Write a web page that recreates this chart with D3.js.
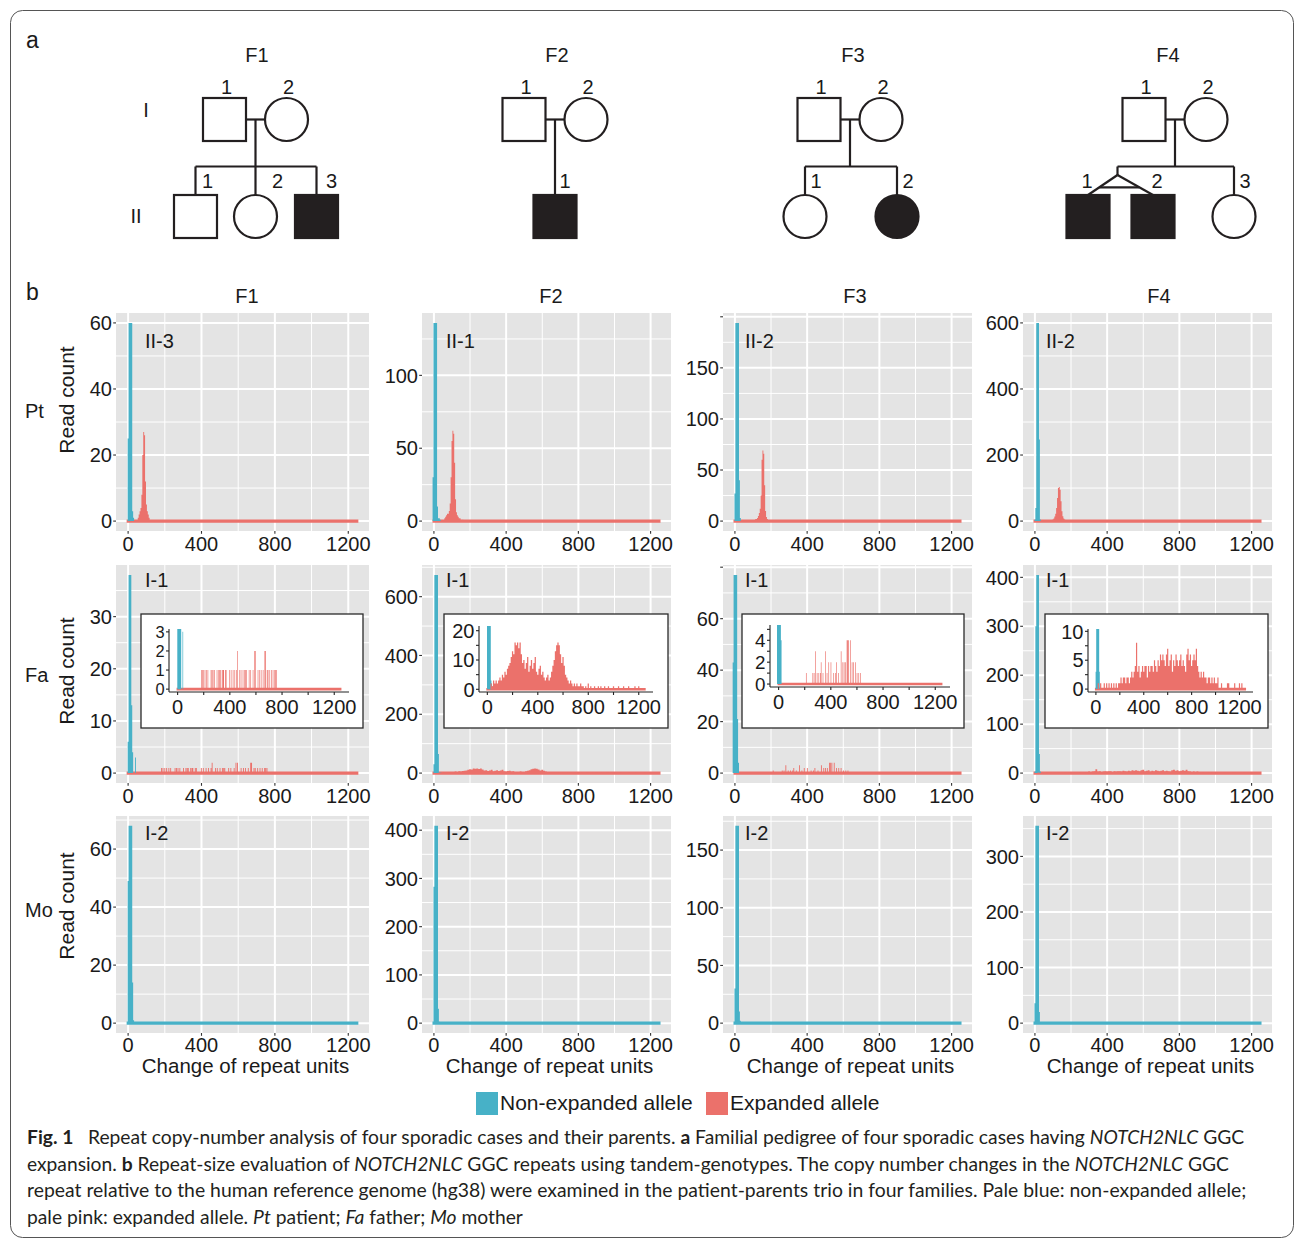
<!DOCTYPE html>
<html>
<head>
<meta charset="utf-8">
<script src="https://cdn.jsdelivr.net/npm/d3@7"></script>
<style>
  body { margin: 0; background: #fff; }
  svg text { font-family: "Liberation Sans", Arial, Helvetica, sans-serif; fill: #1a1a1a; }
  svg text.cap { font-family: Lato, "Open Sans", sans-serif; fill: #231F20; }
</style>
</head>
<body>
<div id="content"></div>
<script>
// ---------- data ----------
const families = ["F1", "F2", "F3", "F4"];
const members = ["Pt", "Fa", "Mo"];
const sampleIds = [
  ["II-3", "II-1", "II-2", "II-2"],
  ["I-1", "I-1", "I-1", "I-1"],
  ["I-2", "I-2", "I-2", "I-2"]
];
const xTicks = [0, 400, 800, 1200];
const xMinorTicks = [200, 600, 1000];
const xDomain = [-66, 1313];
const baselineRange = [-8, 1255];

const yTicks = [
  [[0, 20, 40, 60], [0, 50, 100], [0, 50, 100, 150, 200], [0, 200, 400, 600]],
  [[0, 10, 20, 30], [0, 200, 400, 600], [0, 20, 40, 60, 80], [0, 100, 200, 300, 400]],
  [[0, 20, 40, 60], [0, 100, 200, 300, 400], [0, 50, 100, 150], [0, 100, 200, 300]]
];
const yTickLabels = [
  [["0", "20", "40", "60"], ["0", "50", "100"], ["0", "50", "100", "150", ""], ["0", "200", "400", "600"]],
  [["0", "10", "20", "30"], ["0", "200", "400", "600"], ["0", "20", "40", "60", ""], ["0", "100", "200", "300", "400"]],
  [["0", "20", "40", "60"], ["0", "100", "200", "300", "400"], ["0", "50", "100", "150"], ["0", "100", "200", "300"]]
];

// [change of repeat units, read count]
const ptF1Blue = [[0, 25], [5, 60], [10, 60], [15, 60], [20, 60], [25, 3], [30, 1]];
const ptF2Blue = [[-5, 30], [0, 136], [5, 136], [10, 136], [15, 136], [20, 10], [25, 2], [30, 2], [35, 1]];
const ptF3Blue = [[0, 27], [5, 194], [10, 194], [15, 194], [20, 194], [25, 40], [30, 3]];
const ptF4Blue = [[0, 5], [5, 40], [10, 600], [15, 600], [20, 600], [25, 247], [30, 5]];
const faF1Blue = [[0, 6], [5, 38], [10, 38], [15, 38], [20, 13], [25, 4], [40, 3]];
const faF2Blue = [[0, 30], [5, 674], [10, 674], [15, 674], [20, 674], [25, 65], [30, 3], [35, 2], [40, 1]];
const faF3Blue = [[-10, 43], [-5, 77], [0, 77], [5, 77], [10, 77], [15, 21], [20, 4]];
const faF4Blue = [[0, 3], [5, 300], [10, 405], [15, 405], [20, 405], [25, 39], [30, 3]];
const moF1Blue = [[0, 49], [5, 68], [10, 68], [15, 68], [20, 68], [25, 14], [30, 1]];
const moF2Blue = [[0, 283], [5, 409], [10, 409], [15, 409], [20, 409], [25, 30], [30, 3]];
const moF3Blue = [[0, 30], [5, 171], [10, 171], [15, 171], [20, 171], [25, 10], [30, 2]];
const moF4Blue = [[0, 36], [5, 355], [10, 355], [15, 355], [20, 355], [25, 20], [30, 2]];

const ptF1Red = [[55, 1], [60, 2], [65, 3], [70, 4], [75, 8], [80, 20], [85, 27], [90, 26], [95, 12], [100, 5], [105, 3], [110, 2], [115, 1]];
const ptF2Red = [[60, 2], [65, 3], [70, 4], [75, 5], [80, 5], [85, 7], [90, 12], [95, 30], [100, 55], [105, 62], [110, 60], [115, 40], [120, 15], [125, 6], [130, 4], [135, 3], [140, 2], [145, 2], [150, 1], [160, 1]];
const ptF3Red = [[110, 1], [115, 2], [120, 2], [125, 3], [130, 5], [135, 8], [140, 12], [145, 25], [150, 60], [155, 69], [160, 66], [165, 35], [170, 10], [175, 4], [180, 2], [185, 1]];
const ptF4Red = [[90, 2], [95, 3], [100, 5], [105, 8], [110, 14], [115, 22], [120, 40], [125, 70], [130, 100], [135, 103], [140, 95], [145, 60], [150, 30], [155, 15], [160, 8], [165, 5], [170, 3], [175, 2], [180, 1]];
const faF1Red = [[182, 1], [190, 1], [200, 1], [210, 1], [222, 1], [232, 1], [256, 1], [264, 1], [272, 1], [282, 1], [302, 1], [315, 1], [322, 1], [328, 1], [341, 1], [348, 1], [353, 1], [366, 1], [372, 1], [399, 1], [410, 1], [425, 1], [438, 1], [452, 1], [458, 2], [476, 1], [486, 1], [501, 1], [514, 1], [521, 1], [527, 1], [548, 1], [560, 1], [578, 1], [588, 2], [596, 2], [616, 1], [629, 1], [640, 1], [655, 1], [668, 2], [673, 2], [686, 1], [693, 1], [706, 1], [719, 1], [731, 1], [744, 1], [750, 1], [757, 1]];
const faF2Red = [[30, 2], [40, 1], [50, 3], [60, 2], [70, 3], [80, 2], [90, 3], [100, 4], [110, 3], [120, 5], [130, 4], [140, 6], [150, 5], [160, 7], [170, 8], [180, 9], [190, 11], [200, 13], [210, 12], [220, 16], [230, 15], [240, 16], [250, 14], [260, 16], [270, 12], [280, 9], [290, 10], [300, 7], [310, 9], [320, 11], [330, 6], [340, 8], [350, 10], [360, 7], [370, 9], [380, 11], [390, 6], [400, 5], [410, 7], [420, 8], [430, 5], [440, 6], [450, 4], [460, 3], [470, 4], [480, 5], [490, 3], [500, 4], [510, 6], [520, 8], [530, 10], [540, 13], [550, 15], [560, 16], [570, 15], [580, 12], [590, 9], [600, 11], [610, 8], [620, 5], [630, 4], [640, 3], [650, 2], [660, 3], [670, 2], [680, 1], [690, 2], [700, 1], [710, 2], [720, 1], [730, 1], [740, 2], [750, 1], [760, 1], [780, 1], [800, 2], [820, 1], [850, 1], [880, 1], [900, 1], [930, 1], [960, 1], [1000, 1], [1040, 1], [1080, 1], [1120, 1], [1170, 1], [1200, 1]];
const faF3Red = [[212, 1], [262, 1], [272, 1], [282, 3], [295, 1], [308, 1], [320, 1], [326, 2], [340, 1], [358, 3], [371, 1], [384, 2], [401, 2], [422, 1], [435, 1], [443, 2], [460, 1], [479, 3], [492, 2], [502, 2], [512, 2], [524, 4], [530, 4], [537, 4], [550, 4], [563, 2], [575, 2], [588, 2], [601, 1], [614, 1], [626, 1]];
const faF4Red = [[20, 1], [40, 1], [70, 1], [90, 1], [110, 1], [130, 1], [150, 1], [170, 1], [190, 1], [200, 1], [210, 2], [220, 1], [230, 2], [240, 2], [250, 1], [260, 2], [270, 2], [280, 1], [290, 2], [300, 3], [310, 2], [320, 3], [330, 4], [340, 8], [350, 3], [360, 4], [370, 2], [380, 3], [390, 4], [400, 3], [410, 4], [420, 4], [430, 2], [440, 4], [450, 3], [460, 4], [470, 4], [480, 3], [490, 5], [500, 4], [510, 3], [520, 5], [530, 4], [540, 6], [550, 5], [560, 6], [570, 5], [580, 4], [590, 6], [600, 7], [610, 4], [620, 5], [630, 6], [640, 3], [650, 5], [660, 4], [670, 6], [680, 5], [690, 4], [700, 5], [710, 6], [720, 4], [730, 5], [740, 4], [750, 3], [760, 6], [770, 7], [780, 5], [790, 6], [800, 4], [810, 5], [820, 6], [830, 5], [840, 7], [850, 4], [860, 3], [870, 2], [880, 3], [890, 2], [900, 3], [910, 2], [920, 2], [930, 1], [940, 2], [950, 2], [960, 1], [970, 2], [980, 1], [990, 2], [1000, 1], [1010, 1], [1020, 2], [1050, 1], [1100, 1], [1110, 1], [1160, 1], [1200, 1], [1220, 1]];

const blueSeries = [
  [ptF1Blue, ptF2Blue, ptF3Blue, ptF4Blue],
  [faF1Blue, faF2Blue, faF3Blue, faF4Blue],
  [moF1Blue, moF2Blue, moF3Blue, moF4Blue]
];
const redSeries = [
  [ptF1Red, ptF2Red, ptF3Red, ptF4Red],
  [faF1Red, faF2Red, faF3Red, faF4Red],
  [null, null, null, null]
];
const binWidthRed = [[5, 5, 5, 5], [5, 10, 5, 10]];
const binWidthBlue = 5;

// insets (father row, zoomed y range)
const insetYDomain = [[-0.15, 3.15], [-0.92, 21.6], [-0.27, 5.4], [-0.5, 10.4]];
const insetYTicks = [[0, 1, 2, 3], [0, 5, 10, 15, 20], [0, 1, 2, 3, 4, 5], [0, 2.5, 5, 7.5, 10]];
const insetYLabels = [["0", "1", "2", "3"], ["0", "", "10", "", "20"], ["0", "", "2", "", "4", ""], ["0", "", "5", "", "10"]];

// pedigrees
const pedChildren = [
  [{ sex: "m", aff: false, n: "1" }, { sex: "f", aff: false, n: "2" }, { sex: "m", aff: true, n: "3" }],
  [{ sex: "m", aff: true, n: "1" }],
  [{ sex: "f", aff: false, n: "1" }, { sex: "f", aff: true, n: "2" }],
  [{ sex: "m", aff: true, n: "1", twin: true }, { sex: "m", aff: true, n: "2", twin: true }, { sex: "f", aff: false, n: "3" }]
];

// ---------- layout ----------
const W = 1295, H = 1240;
const ink = "#231F20";
const blue = "#47B1C7", red = "#EB716B";
const colX = [[116, 369], [422, 671], [723, 972], [1023, 1272]];
const rowY = [[313, 531], [565, 783], [816, 1033]];
const titleX = [247, 551, 855, 1159];
const pedTitleX = [257, 557, 853, 1168];
const idDx = [29, 24, 22, 23];
const idDy = [35, 22, 24];
const readCountY = [400, 671, 906];
const memberY = [418, 682, 917];
const insetBox = [[141, 614, 363, 728], [444, 614, 668, 728], [742, 614, 964, 728], [1045, 614, 1268, 728]];
const insetPlot = [[169, 629, 349, 692], [479, 626, 653, 692], [770, 625, 950, 687], [1088, 629, 1253, 692]];
const descentX = [255.5, 555, 850, 1175];
const childOffsets = [[-60, 0, 61], [0], [-45, 47], [-87, -22, 59]];
const childLabelDx = [[12, 22, 15], [10], [11, 11], [-1, 4, 11]];

const svg = d3.select("#content").append("svg").attr("width", W).attr("height", H);
svg.append("rect").attr("width", W).attr("height", H).attr("fill", "#fff");
svg.append("rect").attr("x", 10.5).attr("y", 10.5).attr("width", 1283).attr("height", 1227)
  .attr("rx", 12).attr("fill", "none").attr("stroke", "#555").attr("stroke-width", 1);

svg.append("text").attr("x", 26).attr("y", 48).attr("font-size", 23).text("a");
svg.append("text").attr("x", 26).attr("y", 300).attr("font-size", 23).text("b");

// ---------- pedigrees ----------
const genY = d3.scalePoint().domain(["I", "II"]).range([119.5, 216.5]);
const half = 21.5;
const ped = svg.append("g").attr("stroke", ink).attr("stroke-width", 2.2);

function symbol(g, cx, cy, sex, aff) {
  if (sex === "m") {
    g.append("rect").attr("x", cx - half).attr("y", cy - half).attr("width", 2 * half).attr("height", 2 * half)
      .attr("fill", aff ? ink : "#fff");
  } else {
    g.append("circle").attr("cx", cx).attr("cy", cy).attr("r", half).attr("fill", aff ? ink : "#fff");
  }
}
function pedText(x, y, t) {
  svg.append("text").attr("x", x).attr("y", y).attr("text-anchor", "middle").attr("font-size", 20).text(t);
}

svg.append("text").attr("x", 146).attr("y", 117).attr("text-anchor", "middle").attr("font-size", 20).text("I");
svg.append("text").attr("x", 136).attr("y", 223).attr("text-anchor", "middle").attr("font-size", 20).text("II");

families.forEach((fam, i) => {
  const dx = descentX[i];
  const y1 = genY("I"), y2 = genY("II");
  const sibY = 166.5;
  pedText(pedTitleX[i], 62, fam);
  const fx = dx - 31, mx = dx + 31;
  ped.append("line").attr("x1", fx + half).attr("x2", mx - half).attr("y1", y1).attr("y2", y1);
  const kids = pedChildren[i];
  const cxs = childOffsets[i].map(o => dx + o);
  if (kids.length === 1) {
    ped.append("line").attr("x1", dx).attr("x2", dx).attr("y1", y1).attr("y2", y2 - half);
  } else {
    ped.append("line").attr("x1", dx).attr("x2", dx).attr("y1", y1).attr("y2", sibY);
    const twinIdx = kids.map((k, j) => k.twin ? j : -1).filter(j => j >= 0);
    let apexX = null;
    if (twinIdx.length) apexX = d3.mean(twinIdx, j => cxs[j]) - 3;
    const pts = kids.map((k, j) => k.twin ? apexX : cxs[j]);
    ped.append("line").attr("x1", d3.min(pts)).attr("x2", d3.max(pts)).attr("y1", sibY).attr("y2", sibY);
    kids.forEach((k, j) => {
      if (!k.twin) ped.append("line").attr("x1", cxs[j]).attr("x2", cxs[j]).attr("y1", sibY).attr("y2", y2 - half);
    });
    if (twinIdx.length) {
      const apexY = 175;
      ped.append("line").attr("x1", apexX).attr("x2", apexX).attr("y1", sibY).attr("y2", apexY);
      twinIdx.forEach(j => ped.append("line").attr("x1", apexX).attr("y1", apexY).attr("x2", cxs[j]).attr("y2", y2 - half));
      const t = (187.3 - apexY) / (y2 - half - apexY);
      const xa = apexX + (cxs[twinIdx[0]] - apexX) * t, xb = apexX + (cxs[twinIdx[1]] - apexX) * t;
      ped.append("line").attr("x1", xa).attr("x2", xb).attr("y1", 187.3).attr("y2", 187.3);
    }
  }
  symbol(ped, fx, y1, "m", false);
  symbol(ped, mx, y1, "f", false);
  pedText(fx + 2, 94, "1");
  pedText(mx + 2, 94, "2");
  kids.forEach((k, j) => {
    symbol(ped, cxs[j], y2, k.sex, k.aff);
    pedText(cxs[j] + childLabelDx[i][j], 188, k.n);
  });
});

// ---------- histogram panels ----------
function barsPath(data, x, y, w) {
  const p = d3.path();
  data.forEach(([v, c]) => {
    const xa = x(v - w / 2), xb = x(v + w / 2);
    p.rect(xa, y(c), xb - xa, y(0) - y(c));
  });
  return p.toString();
}

families.forEach((fam, c) => {
  svg.append("text").attr("x", titleX[c]).attr("y", 303).attr("text-anchor", "middle").attr("font-size", 20).text(fam);
});

members.forEach((mem, r) => {
  svg.append("text").attr("x", 25).attr("y", memberY[r]).attr("font-size", 20).text(mem);
  svg.append("text").attr("transform", `translate(74,${readCountY[r]}) rotate(-90)`)
    .attr("text-anchor", "middle").attr("font-size", 21).text("Read count");

  families.forEach((fam, c) => {
    const [x0, x1] = colX[c], [y0, y1] = rowY[r];
    const blueData = blueSeries[r][c], redData = redSeries[r][c];
    const maxV = d3.max(blueData, d => d[1]);
    const x = d3.scaleLinear().domain(xDomain).range([x0, x1]);
    const y = d3.scaleLinear().domain([-0.05 * maxV, 1.05 * maxV]).range([y1, y0]);
    const g = svg.append("g");

    g.append("rect").attr("x", x0).attr("y", y0).attr("width", x1 - x0).attr("height", y1 - y0).attr("fill", "#E4E4E4");

    const ticks = yTicks[r][c];
    const step = ticks[1] - ticks[0];
    const yMinor = d3.range(ticks[0] - step / 2, 1.05 * maxV, step).filter(v => v > -0.05 * maxV);
    g.selectAll(null).data(yMinor).enter().append("line")
      .attr("x1", x0).attr("x2", x1).attr("y1", d => y(d)).attr("y2", d => y(d))
      .attr("stroke", "#fff").attr("stroke-width", 1);
    g.selectAll(null).data(xMinorTicks).enter().append("line")
      .attr("y1", y0).attr("y2", y1).attr("x1", d => x(d)).attr("x2", d => x(d))
      .attr("stroke", "#fff").attr("stroke-width", 1);
    g.selectAll(null).data(ticks).enter().append("line")
      .attr("x1", x0).attr("x2", x1).attr("y1", d => y(d)).attr("y2", d => y(d))
      .attr("stroke", "#fff").attr("stroke-width", 2);
    g.selectAll(null).data(xTicks).enter().append("line")
      .attr("y1", y0).attr("y2", y1).attr("x1", d => x(d)).attr("x2", d => x(d))
      .attr("stroke", "#fff").attr("stroke-width", 2);

    // data
    g.append("line").attr("x1", x(baselineRange[0])).attr("x2", x(baselineRange[1]))
      .attr("y1", y(0)).attr("y2", y(0))
      .attr("stroke", redData ? red : blue).attr("stroke-width", 3.3);
    g.append("path").attr("d", barsPath(blueData, x, y, binWidthBlue)).attr("fill", blue);
    if (redData) g.append("path").attr("d", barsPath(redData, x, y, binWidthRed[r][c])).attr("fill", red);

    // axes
    const labels = yTickLabels[r][c];
    ticks.forEach((t, k) => {
      g.append("line").attr("x1", x0 - 2.8).attr("x2", x0).attr("y1", y(t)).attr("y2", y(t))
        .attr("stroke", "#333").attr("stroke-width", 1.1);
      if (labels[k]) g.append("text").attr("x", x0 - 4).attr("y", y(t)).attr("dy", "0.36em")
        .attr("text-anchor", "end").attr("font-size", 20).text(labels[k]);
    });
    xTicks.forEach(t => {
      g.append("line").attr("x1", x(t)).attr("x2", x(t)).attr("y1", y1).attr("y2", y1 + 2.8)
        .attr("stroke", "#333").attr("stroke-width", 1.1);
      g.append("text").attr("x", x(t)).attr("y", y1 + (r === 2 ? 19 : 20)).attr("text-anchor", "middle")
        .attr("font-size", 20).text(t);
    });
    g.append("text").attr("x", x0 + idDx[c]).attr("y", y0 + idDy[r]).attr("font-size", 20).text(sampleIds[r][c]);

    if (r === 2) {
      g.append("text").attr("x", (x0 + x1) / 2 + 3).attr("y", 1073).attr("text-anchor", "middle")
        .attr("font-size", 20.5).text("Change of repeat units");
    }

    // inset for father row
    if (r === 1) {
      const [bx0, by0, bx1, by1] = insetBox[c];
      const [px0, py0, px1, py1] = insetPlot[c];
      const ix = d3.scaleLinear().domain(xDomain).range([px0, px1]);
      const iy = d3.scaleLinear().domain(insetYDomain[c]).range([py1, py0]);
      const ig = svg.append("g");
      ig.append("rect").attr("x", bx0).attr("y", by0).attr("width", bx1 - bx0).attr("height", by1 - by0)
        .attr("fill", "#fff").attr("stroke", "#2a2a2a").attr("stroke-width", 1.3);
      const clipId = "clip" + c;
      ig.append("clipPath").attr("id", clipId).append("rect")
        .attr("x", px0).attr("y", py0).attr("width", px1 - px0).attr("height", py1 - py0);
      const dg = ig.append("g").attr("clip-path", `url(#${clipId})`);
      dg.append("line").attr("x1", ix(baselineRange[0])).attr("x2", ix(baselineRange[1]))
        .attr("y1", iy(0)).attr("y2", iy(0)).attr("stroke", red).attr("stroke-width", 2.6);
      dg.append("path").attr("d", barsPath(blueData, ix, iy, binWidthBlue)).attr("fill", blue);
      dg.append("path").attr("d", barsPath(redData, ix, iy, binWidthRed[r][c])).attr("fill", red);

      ig.append("line").attr("x1", px0).attr("x2", px0).attr("y1", py0).attr("y2", py1).attr("stroke", "#222").attr("stroke-width", 1.1);
      ig.append("line").attr("x1", px0).attr("x2", px1).attr("y1", py1).attr("y2", py1).attr("stroke", "#222").attr("stroke-width", 1.1);
      // label font shrinks where labelled ticks sit close together
      const labTicks = insetYTicks[c].filter((t, k) => insetYLabels[c][k]);
      const gap = Math.abs(iy(labTicks[0]) - iy(labTicks[1]));
      const labSize = Math.min(20, gap * 0.86);
      insetYTicks[c].forEach((t, k) => {
        ig.append("line").attr("x1", px0 - 3).attr("x2", px0).attr("y1", iy(t)).attr("y2", iy(t))
          .attr("stroke", "#222").attr("stroke-width", 1.1);
        const lab = insetYLabels[c][k];
        if (lab) ig.append("text").attr("x", px0 - 4.5).attr("y", iy(t)).attr("dy", "0.36em")
          .attr("text-anchor", "end").attr("font-size", labSize).text(lab);
      });
      xTicks.concat(xMinorTicks).forEach(t => {
        ig.append("line").attr("x1", ix(t)).attr("x2", ix(t)).attr("y1", py1).attr("y2", py1 + 3)
          .attr("stroke", "#222").attr("stroke-width", 1.1);
      });
      xTicks.forEach(t => {
        ig.append("text").attr("x", ix(t)).attr("y", py1 + 22).attr("text-anchor", "middle").attr("font-size", 20).text(t);
      });
    }
  });
});

// ---------- legend ----------
const legendItems = [["Non-expanded allele", blue, 476], ["Expanded allele", red, 706]];
legendItems.forEach(([label, col, lx]) => {
  svg.append("rect").attr("x", lx).attr("y", 1092).attr("width", 22).attr("height", 23).attr("fill", col);
  svg.append("text").attr("x", lx + 24).attr("y", 1110).attr("font-size", 21).text(label);
});

// ---------- caption ----------
const captionLines = [
  [["b", "Fig. 1"], ["n", "\u2002 Repeat copy-number analysis of four sporadic cases and their parents. "], ["b", "a"], ["n", " Familial pedigree of four sporadic cases having "], ["i", "NOTCH2NLC"], ["n", " GGC"]],
  [["n", "expansion. "], ["b", "b"], ["n", " Repeat-size evaluation of "], ["i", "NOTCH2NLC"], ["n", " GGC repeats using tandem-genotypes. The copy number changes in the "], ["i", "NOTCH2NLC"], ["n", " GGC"]],
  [["n", "repeat relative to the human reference genome (hg38) were examined in the patient-parents trio in four families. Pale blue: non-expanded allele;"]],
  [["n", "pale pink: expanded allele. "], ["i", "Pt"], ["n", " patient; "], ["i", "Fa"], ["n", " father; "], ["i", "Mo"], ["n", " mother"]]
];
const captionWidths = [1218, 1202, 1220, 496];
captionLines.forEach((parts, li) => {
  const t = svg.append("text").attr("class", "cap").attr("font-size", 19.5)
    .attr("xml:space", "preserve").style("white-space", "pre");
  parts.forEach(([s, str]) => {
    const ts = t.append("tspan").text(str);
    if (s === "b") ts.attr("font-weight", "bold");
    if (s === "i") ts.attr("font-style", "italic");
  });
  const len = t.node().getComputedTextLength();
  const sx = captionWidths[li] / len;
  t.attr("transform", `translate(27,${1144 + li * 26.5}) scale(${sx},1)`);
});
</script>
</body>
</html>
